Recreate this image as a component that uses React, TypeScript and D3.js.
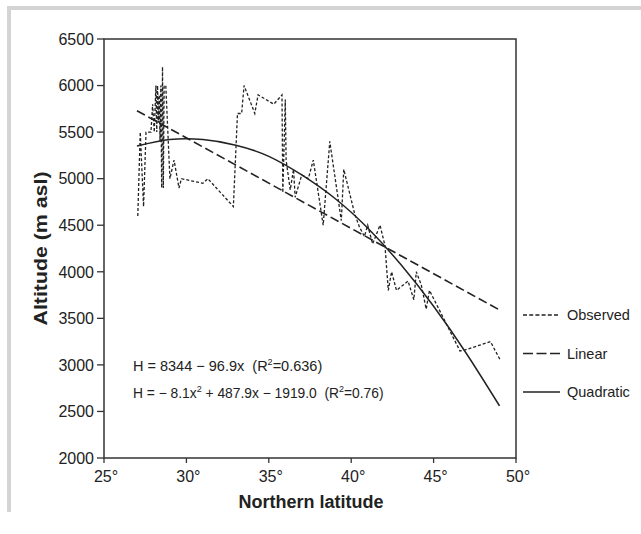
import React from 'react';
import * as d3 from 'd3';

// observed altitude along the transect (lat, m asl)
const obsLat = [27.05, 27.2, 27.4, 27.55, 27.85, 27.95, 28.05, 28.15, 28.2, 28.25, 28.3, 28.35, 28.4, 28.45, 28.5, 28.55, 28.6, 28.65, 28.75, 29.0, 29.25, 29.55, 29.7, 31.0, 31.3, 32.85, 33.1, 33.35, 33.5, 34.15, 34.35, 35.3, 35.8, 35.85, 36.0, 36.05, 36.3, 36.5, 36.6, 37.0, 37.4, 37.7, 38.3, 38.7, 39.4, 39.55, 40.2, 40.5, 40.8, 41.0, 41.3, 41.75, 42.05, 42.25, 42.45, 42.75, 43.45, 43.8, 43.95, 44.25, 44.55, 44.75, 46.6, 46.9, 48.45, 49.05];
const obsAlt = [4600, 5500, 4700, 5500, 5500, 5800, 5500, 6000, 5500, 6000, 5600, 5900, 5400, 6000, 4900, 6200, 4900, 6000, 6000, 5000, 5200, 4900, 5000, 4950, 5000, 4700, 5700, 5700, 6000, 5700, 5900, 5800, 5900, 4850, 5850, 5200, 4880, 5100, 4800, 5040, 5000, 5200, 4500, 5400, 4550, 5100, 4630, 4480, 4380, 4500, 4300, 4500, 4280, 3800, 4000, 3800, 3900, 3700, 4000, 3860, 3600, 3800, 3150, 3160, 3250, 3050];

// fitted lines
const linLat = [27, 49];
const linAlt = [5730, 3590];
const quadLat = [27, 29, 31, 33, 35, 37, 39, 41, 43, 45, 47, 49];
const quadAlt = [5350, 5420, 5420, 5360, 5240, 5040, 4790, 4470, 4080, 3630, 3120, 2560];

const xTicks = [25, 30, 35, 40, 45, 50];
const yTicks = [2000, 2500, 3000, 3500, 4000, 4500, 5000, 5500, 6000, 6500];
const legendItems = [
  { name: 'Observed', dash: '4,2.2', w: 1.3 },
  { name: 'Linear', dash: '10,3.5', w: 1.5 },
  { name: 'Quadratic', dash: null, w: 1.5 },
];

const FONT = 'Liberation Sans, Arial, sans-serif';

const App = () => {
  const margin = { left: 104, right: 516, top: 39, bottom: 458 };
  const x = d3.scaleLinear().domain([25, 50]).range([margin.left, margin.right]);
  const y = d3.scaleLinear().domain([2000, 6500]).range([margin.bottom, margin.top]);

  const line = d3.line<[number, number]>().x(d => x(d[0])).y(d => y(d[1]));
  const curve = d3.line<[number, number]>().x(d => x(d[0])).y(d => y(d[1])).curve(d3.curveNatural);

  const obs = obsLat.map((v, i) => [v, obsAlt[i]] as [number, number]);
  const lin = linLat.map((v, i) => [v, linAlt[i]] as [number, number]);
  const quad = quadLat.map((v, i) => [v, quadAlt[i]] as [number, number]);

  const axisColor = '#333';

  return (
    <svg width={641} height={534} style={{ position: 'absolute', left: 0, top: 0 }} fontFamily={FONT}>
      <rect x={0} y={0} width={641} height={534} fill="#fff" />
      {/* light grey frame */}
      <rect x={7} y={6} width={634} height={4} fill="#d4d4d4" />
      <rect x={7} y={6} width={4} height={506} fill="#d4d4d4" />

      {/* plot box */}
      <rect x={margin.left} y={margin.top} width={margin.right - margin.left} height={margin.bottom - margin.top}
        fill="none" stroke={axisColor} strokeWidth={1.5} />

      {yTicks.map(t => (
        <g key={'y' + t}>
          <line x1={margin.left - 7} x2={margin.left} y1={y(t)} y2={y(t)} stroke={axisColor} strokeWidth={1.3} />
          <text x={margin.left - 10} y={y(t)} dy="0.36em" textAnchor="end" fontSize={16} fill="#222">{t}</text>
        </g>
      ))}
      {xTicks.map(t => (
        <g key={'x' + t}>
          <line x1={x(t)} x2={x(t)} y1={margin.bottom} y2={margin.bottom + 5} stroke={axisColor} strokeWidth={1.3} />
          <text x={x(t) + 2} y={margin.bottom + 24} textAnchor="middle" fontSize={16} fill="#222">{t}°</text>
        </g>
      ))}

      <text transform={`translate(47,${(margin.top + margin.bottom) / 2}) rotate(-90)`} textAnchor="middle"
        fontSize={18} fontWeight="bold" fill="#222" textLength={154} lengthAdjust="spacingAndGlyphs">Altitude (m asl)</text>
      <text x={311} y={508} textAnchor="middle" fontSize={18} fontWeight="bold" fill="#222">
        Northern latitude
      </text>

      {/* series */}
      <path d={line(obs) || ''} fill="none" stroke="#222" strokeWidth={1.3} strokeDasharray="3,2" />
      <path d={line(lin) || ''} fill="none" stroke="#222" strokeWidth={1.6} strokeDasharray="9,4" />
      <path d={curve(quad) || ''} fill="none" stroke="#222" strokeWidth={1.5} />

      {/* equations */}
      <text x={133} y={371} fontSize={14.5} fill="#222" style={{ whiteSpace: 'pre' }}>
        {'H = 8344 − 96.9x  (R'}<tspan fontSize={9} dy={-6}>2</tspan><tspan dy={6}>=0.636)</tspan>
      </text>
      <text x={133} y={398} fontSize={13.8} fill="#222" style={{ whiteSpace: 'pre' }}>
        {'H = − 8.1x'}<tspan fontSize={9} dy={-6}>2</tspan><tspan dy={6}>{' + 487.9x − 1919.0  (R'}</tspan>
        <tspan fontSize={9} dy={-6}>2</tspan><tspan dy={6}>=0.76)</tspan>
      </text>

      {/* legend */}
      {legendItems.map((it, i) => {
        const ly = 315 + i * 38.5;
        return (
          <g key={it.name}>
            <line x1={523} x2={560} y1={ly} y2={ly} stroke="#222" strokeWidth={it.w}
              strokeDasharray={it.dash || undefined} />
            <text x={567} y={ly} dy="0.36em" fontSize={14.5} fill="#222">{it.name}</text>
          </g>
        );
      })}
    </svg>
  );
};

export default App;
